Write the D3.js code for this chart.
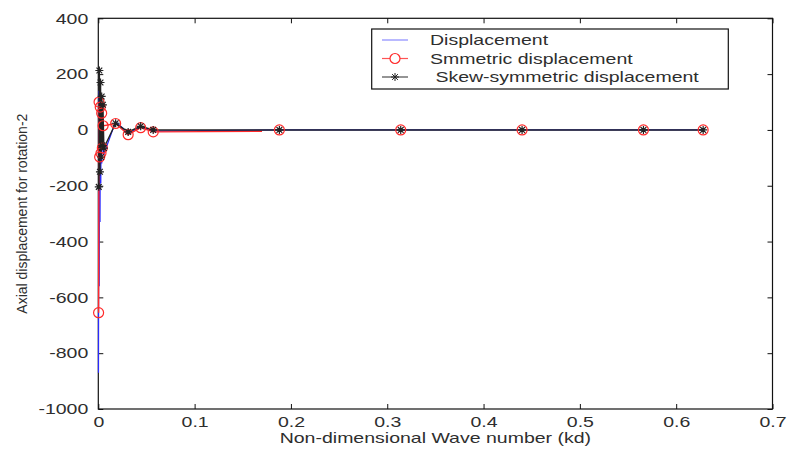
<!DOCTYPE html>
<html>
<head>
<meta charset="utf-8">
<script src="https://cdn.jsdelivr.net/npm/d3@7"></script>
<style>
  html, body { margin: 0; padding: 0; background: #fff; }
  svg { display: block; font-family: "Liberation Sans", Arial, sans-serif; }
</style>
</head>
<body>
<svg id="chart" width="791" height="452"></svg>
<script>
// Axis ticks
const xTicks = [0, 0.1, 0.2, 0.3, 0.4, 0.5, 0.6, 0.7];
const yTicks = [400, 200, 0, -200, -400, -600, -800, -1000];

// Displacement (blue line)
const dispKd  = [0.0002, 0.0006, 0.0010, 0.0014, 0.0018, 0.0022, 0.0026, 0.0030, 0.0036, 0.0042, 0.0055, 0.018, 0.031, 0.044, 0.057, 0.188, 0.314, 0.440, 0.566, 0.628];
const dispVal = [-870, 140, -560, 110, -330, 90, -190, 70, -120, 50, -90, 30, -12, 10, -4, 0, 0, 0, 0, 0];

// Symmetric displacement: continuous curve and sampled points (red)
const symCurveKd  = [0.0003, 0.0008, 0.0014, 0.0020, 0.0028, 0.0035, 0.0042, 0.0050, 0.018, 0.031, 0.044, 0.057, 0.170];
const symCurveVal = [-655, 100, -97, 82, -83, 60, -65, 15, 23, -17, 8, -7, -5];
const symSampleKd  = [0.0003, 0.0008, 0.0014, 0.0020, 0.0028, 0.0035, 0.0042, 0.0050, 0.018, 0.031, 0.044, 0.057, 0.188, 0.314, 0.440, 0.566, 0.628];
const symSampleVal = [-655, 100, -97, 82, -83, 60, -65, 15, 23, -17, 8, -7, 0, 0, 0, 0, 0];

// Skew-symmetric displacement (black)
const skewKd  = [0.0005, 0.0011, 0.0017, 0.0023, 0.0029, 0.0035, 0.0041, 0.0048, 0.0058, 0.018, 0.031, 0.044, 0.057, 0.188, 0.314, 0.440, 0.566, 0.628];
const skewVal = [-204, 213, -150, 170, -97, 120, -55, 90, -65, 24, -7, 13, 0, 0, 0, 0, 0, 0];

const legendLabels = ["Displacement", "Smmetric displacement", " Skew-symmetric displacement"];

const blue = "#2a2aff", red = "#ff2a2a", black = "#222";
const stretch = 1.3;   // horizontal widening of all text
const svg = d3.select("#chart");

const m = { left: 98.3, right: 772.5, top: 18.3, bottom: 409 };
const x = d3.scaleLinear().domain([0, 0.7]).range([m.left, m.right]);
const y = d3.scaleLinear().domain([-1000, 400]).range([m.bottom, m.top]);

// widen a text element horizontally, keeping its anchor
function widen(sel) {
  sel.each(function () {
    const len = this.getComputedTextLength();
    this.setAttribute("textLength", len * stretch);
    this.setAttribute("lengthAdjust", "spacingAndGlyphs");
  });
}

const fontSize = 15;
const textColor = "#2e2e2e";
const plain = d => String(d);

// axes with inward ticks
const gx = svg.append("g").attr("transform", `translate(0,${m.bottom})`)
  .call(d3.axisBottom(x).tickValues(xTicks).tickSize(-5).tickPadding(7).tickFormat(plain));
const gxTop = svg.append("g").attr("transform", `translate(0,${m.top})`)
  .call(d3.axisTop(x).tickValues(xTicks).tickSize(-5).tickFormat(""));
const gy = svg.append("g").attr("transform", `translate(${m.left},0)`)
  .call(d3.axisLeft(y).tickValues(yTicks).tickSize(-5).tickPadding(10).tickFormat(plain));
const gyRight = svg.append("g").attr("transform", `translate(${m.right},0)`)
  .call(d3.axisRight(y).tickValues(yTicks).tickSize(-5).tickFormat(""));

[gx, gxTop, gy, gyRight].forEach(g => {
  g.select(".domain").remove();
  g.selectAll(".tick line").attr("stroke", "#111").attr("stroke-width", 1);
  g.selectAll("text").attr("font-size", fontSize).attr("fill", textColor)
    .attr("font-family", "Liberation Sans, Arial, sans-serif");
});
gx.selectAll("text").call(widen);
gy.selectAll("text").call(widen);

// frame
svg.append("rect").attr("x", m.left).attr("y", m.top)
  .attr("width", m.right - m.left).attr("height", m.bottom - m.top)
  .attr("fill", "none").attr("stroke", "#111").attr("stroke-width", 1.2);

const plot = svg.append("g");
const line = d3.line().x(d => x(d[0])).y(d => y(d[1]));

const zip = (a, b) => a.map((v, i) => [v, b[i]]);

// star marker ('*')
function starPath(cx, cy, r) {
  const d = r * 0.72;
  return `M${cx - r},${cy}L${cx + r},${cy}M${cx},${cy - r}L${cx},${cy + r}` +
         `M${cx - d},${cy - d}L${cx + d},${cy + d}M${cx - d},${cy + d}L${cx + d},${cy - d}`;
}

// blue displacement
plot.append("path").datum(zip(dispKd, dispVal)).attr("d", line)
  .attr("fill", "none").attr("stroke", blue).attr("stroke-width", 1.2);

// red symmetric
plot.append("path").datum(zip(symCurveKd, symCurveVal)).attr("d", line)
  .attr("fill", "none").attr("stroke", red).attr("stroke-width", 1.4);

// black skew-symmetric
plot.append("path").datum(zip(skewKd, skewVal)).attr("d", line)
  .attr("fill", "none").attr("stroke", black).attr("stroke-width", 1.4);

plot.selectAll("circle.sym").data(zip(symSampleKd, symSampleVal)).join("circle")
  .attr("class", "sym")
  .attr("cx", d => x(d[0])).attr("cy", d => y(d[1])).attr("r", 5)
  .attr("fill", "none").attr("stroke", red).attr("stroke-width", 1.2);

plot.selectAll("path.star").data(zip(skewKd, skewVal)).join("path")
  .attr("class", "star")
  .attr("d", d => starPath(x(d[0]), y(d[1]), 4))
  .attr("fill", "none").attr("stroke", black).attr("stroke-width", 1.2);

// legend
const lg = svg.append("g");
lg.append("rect").attr("x", 371.7).attr("y", 29).attr("width", 356.6).attr("height", 60)
  .attr("fill", "#fff").attr("stroke", "#111").attr("stroke-width", 1.2);
const rows = [40, 58.5, 77];
const legColors = [blue, red, black];
rows.forEach((ry, i) => {
  lg.append("line").attr("x1", 382).attr("x2", 408).attr("y1", ry).attr("y2", ry)
    .attr("stroke", legColors[i]).attr("stroke-width", 1.2).attr("opacity", i === 0 ? 0.55 : 0.8);
  if (i === 1) lg.append("circle").attr("cx", 395).attr("cy", ry).attr("r", 5)
    .attr("fill", "#fff").attr("stroke", red).attr("stroke-width", 1.2);
  if (i === 2) lg.append("path").attr("d", starPath(395, ry, 4))
    .attr("fill", "none").attr("stroke", black).attr("stroke-width", 1);
  lg.append("text").attr("x", 430).attr("y", ry).attr("dy", "0.35em")
    .attr("font-size", fontSize).attr("fill", textColor)
    .style("white-space", "pre").attr("xml:space", "preserve")
    .text(legendLabels[i]).call(widen);
});

// axis titles
svg.append("text").attr("x", (m.left + m.right) / 2).attr("y", 443)
  .attr("text-anchor", "middle").attr("font-size", fontSize).attr("fill", textColor)
  .text("Non-dimensional Wave number (kd)").call(widen);

svg.append("text")
  .attr("transform", `translate(27,${(m.top + m.bottom) / 2}) rotate(-90)`)
  .attr("text-anchor", "middle").attr("font-size", 14).attr("fill", textColor)
  .attr("font-family", "Liberation Sans Narrow, Liberation Sans, Arial, sans-serif")
  .text("Axial displacement for rotation-2");
</script>
</body>
</html>
